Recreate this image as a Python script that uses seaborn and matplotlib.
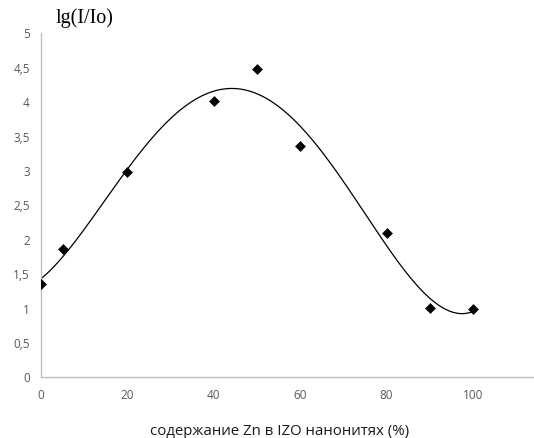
import numpy as np
import matplotlib
matplotlib.use("Agg")
import matplotlib.pyplot as plt
import seaborn as sns
import pandas as pd

zn = [0, 5, 20, 40, 50, 60, 80, 90, 100]
lg = [1.35, 1.85, 2.97, 4.0, 4.47, 3.35, 2.08, 1.0, 0.98]
yticks = [0, 0.5, 1, 1.5, 2, 2.5, 3, 3.5, 4, 4.5, 5]
xticks = [0, 20, 40, 60, 80, 100]

sns.set_theme(style="white")
plt.rcParams['font.family'] = ['Open Sans', 'DejaVu Sans']

fig = plt.figure(figsize=(5.34, 4.39), dpi=100)
ax = fig.add_axes([41/534, 61.5/439, 1 - 41/534, 344/439])

df = pd.DataFrame({"x": zn, "y": lg})
# polynomial trendline (degree 4) like Excel
coef = np.polyfit(zn, lg, 4)
xs = np.linspace(0, 100, 300)
trend = pd.DataFrame({"x": xs, "y": np.polyval(coef, xs)})
sns.lineplot(data=trend, x="x", y="y", ax=ax, color="black", lw=0.9)
sns.scatterplot(data=df, x="x", y="y", ax=ax, marker="D", s=26, color="black", edgecolor="black", zorder=3)

ax.set_xlim(0, (534 - 41) / 4.32)
ax.set_ylim(0, 5)
ax.set_xticks(xticks)
ax.set_yticks(yticks)
ax.set_yticklabels([str(v).replace('.', ',') if v != int(v) else str(int(v)) for v in yticks])
ax.tick_params(colors="#595959", labelsize=8.5, length=0, pad=8)
for s in ["top", "right"]:
    ax.spines[s].set_visible(False)
for s in ["left", "bottom"]:
    ax.spines[s].set_color("#bfbfbf")
    ax.spines[s].set_linewidth(1.0)
ax.set_xlabel("")
ax.set_ylabel("")
fig.text(56/534, 1 - 18/439, "lg(I/Io)", family="Liberation Serif", fontsize=14.5, color="black", va="center", ha="left")
fig.text(280/534, 1 - 432/439, "содержание Zn в IZO нанонитях (%)", fontsize=10.8, color="#1a1a1a", va="center", ha="center")

fig.savefig("out.png", dpi=100)
